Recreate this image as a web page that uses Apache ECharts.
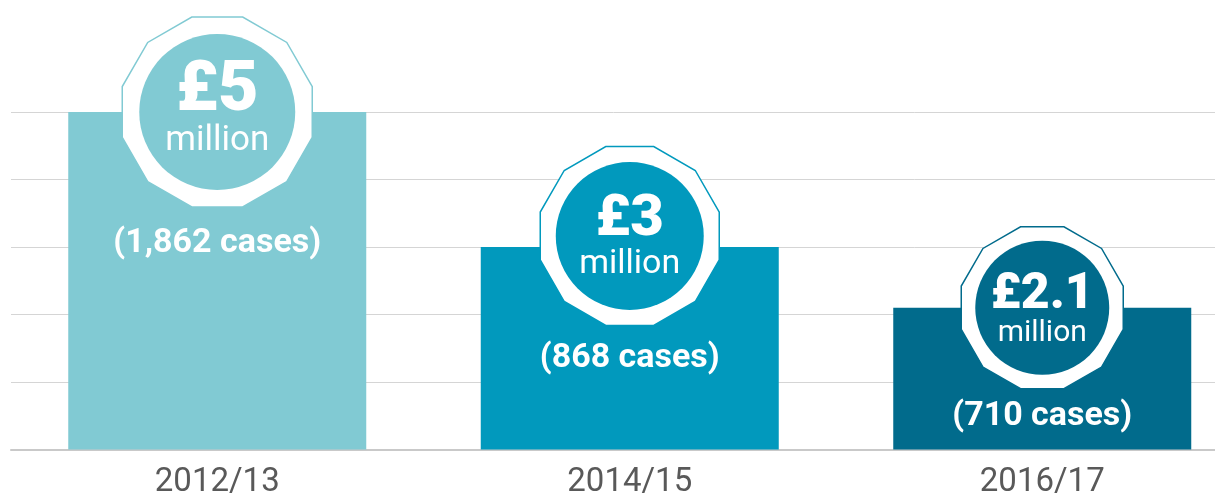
<!DOCTYPE html>
<html>
<head>
<meta charset="utf-8">
<script src="https://cdn.jsdelivr.net/npm/echarts@6/dist/echarts.min.js"></script>
<style>
  html, body { margin: 0; padding: 0; background: #fff; }
  #chart { width: 1215px; height: 501px; }
</style>
</head>
<body>
<div id="chart"></div>
<script>
var years = ['2012/13', '2014/15', '2016/17'];
var amounts = [5, 3, 2.1];
var amountLabels = ['£5', '£3', '£2.1'];
var cases = ['(1,862 cases)', '(868 cases)', '(710 cases)'];
var colors = ['#81cad3', '#0199bd', '#016b8c'];

// badge sizes (outer 12-gon, inner circle) and fonts per bar
var badgeSize = [190, 179, 162];
var circleSize = [156, 148, 134];
var badgeShift = [0, -11, 0];
var labelShift = [1, 5, 6];
var bigFont = [70, 58, 50];
var smallFont = [35, 34, 30];
var casesPos = [131, 111, 109];

// 12 sided polygon with a flat top
function polygonPath() {
  var pts = [];
  for (var k = 0; k < 12; k++) {
    var a = (15 + 30 * k) * Math.PI / 180;
    pts.push((Math.cos(a) * 100).toFixed(2) + ' ' + (-Math.sin(a) * 100).toFixed(2));
  }
  return 'path://M' + pts.join(' L') + ' Z';
}
var poly = polygonPath();

var chart = echarts.init(document.getElementById('chart'));
chart.setOption({
  animation: false,
  grid: { left: 11, top: 112, width: 1237.5, height: 337.5, outerBoundsMode: 'none' },
  xAxis: {
    type: 'category',
    data: years,
    axisTick: { show: false },
    axisLine: { lineStyle: { color: '#c9c9c9', width: 2 } },
    axisLabel: { color: '#595959', fontSize: 33, fontFamily: 'Roboto', margin: 17 }
  },
  yAxis: {
    type: 'value',
    min: 0,
    max: 5,
    interval: 1,
    axisLabel: { show: false },
    axisLine: { show: false },
    axisTick: { show: false },
    splitLine: { lineStyle: { color: '#d5d5d5', width: 1 } }
  },
  series: [
    {
      type: 'bar',
      barWidth: 298,
      z: 2,
      data: amounts.map(function (v, i) {
        return {
          value: v,
          itemStyle: { color: colors[i] },
          label: {
            show: true,
            position: ['50%', casesPos[i]],
            align: 'center',
            verticalAlign: 'middle',
            formatter: cases[i],
            color: '#fff',
            fontSize: 34,
            fontWeight: 'bold',
            fontFamily: 'Roboto'
          }
        };
      })
    },
    {
      type: 'scatter',
      silent: true,
      z: 3,
      symbol: poly,
      data: amounts.map(function (v, i) {
        return {
          value: [i, v],
          symbolSize: badgeSize[i],
          symbolOffset: [0, badgeShift[i]],
          itemStyle: { color: '#fff', borderColor: colors[i], borderWidth: 1.5, opacity: 1 }
        };
      })
    },
    {
      type: 'scatter',
      silent: true,
      z: 4,
      symbol: 'circle',
      data: amounts.map(function (v, i) {
        return {
          value: [i, v],
          symbolSize: circleSize[i],
          symbolOffset: [0, badgeShift[i]],
          itemStyle: { color: colors[i], opacity: 1 },
          label: {
            show: true,
            position: 'inside',
            offset: [0, labelShift[i]],
            formatter: '{a|' + amountLabels[i] + '}\n{b|million}',
            rich: {
              a: { color: '#fff', fontSize: bigFont[i], fontWeight: 900, fontFamily: 'Roboto', lineHeight: bigFont[i] * 0.8 },
              b: { color: '#fff', fontSize: smallFont[i], fontFamily: 'Roboto', lineHeight: smallFont[i] * 1.2 }
            }
          }
        };
      })
    }
  ]
});
</script>
</body>
</html>
